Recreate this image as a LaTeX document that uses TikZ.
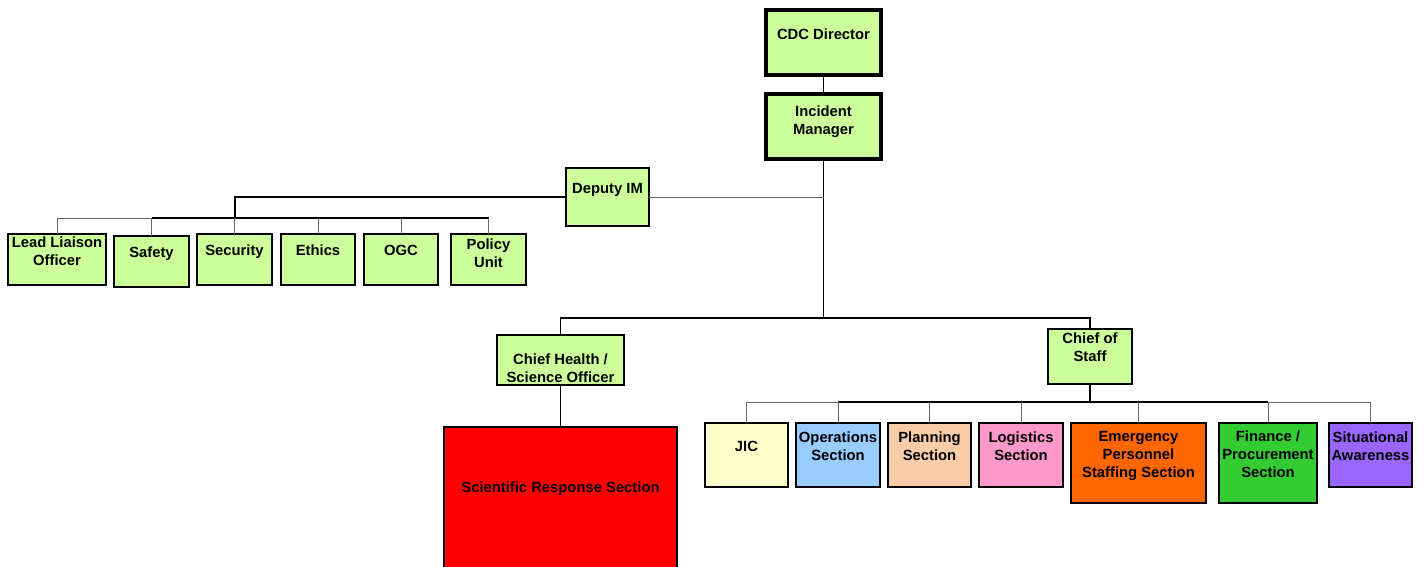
\documentclass[tikz,border=0pt]{standalone}
\usepackage{fontspec}
\setmainfont{Liberation Sans}
\definecolor{lime}{HTML}{CCFF99}
\definecolor{cream}{HTML}{FFFFCC}
\definecolor{sky}{HTML}{99CCFF}
\definecolor{peach}{HTML}{FACDA8}
\definecolor{rose}{HTML}{FF99CC}
\definecolor{tangerine}{HTML}{FF6600}
\definecolor{leafgreen}{HTML}{33CC33}
\definecolor{violet}{HTML}{9966FF}
\definecolor{scarlet}{HTML}{FF0000}
% box: name, x1, y1, x2, y2, style, label centre y, label
\newcommand\orgbox[8]{%
  \node[#6, minimum width={(#4)-(#2)}, minimum height={(#5)-(#3)}] (#1)
    at ({((#2)+(#4))/2},{((#3)+(#5))/2}) {};
  \node[lbl] (#1-t) at ({((#2)+(#4))/2},{(#7)+1.8}) {#8};}
\begin{document}
\begin{tikzpicture}[x=1pt,y=-1pt,
  box/.style={draw=black, line width=1.6pt, rectangle, inner sep=0pt, outer sep=0pt, fill=lime},
  bigbox/.style={box, line width=3.2pt},
  lbl/.style={font=\fontsize{14.8}{18}\selectfont\bfseries, align=center, inner sep=0pt},
  wire/.style={line width=0.9pt, black!60},
  bus/.style={line width=1.2pt, black},
  trunk/.style={line width=2pt, black}]
\useasboundingbox[fill=white] (0,0) rectangle (1424,566);

% command chain
\orgbox{cdc}{766}{10}{881}{75}{bigbox}{32}{CDC Director}
\orgbox{im}{766}{94}{881}{159}{bigbox}{120}{Incident\\Manager}
\orgbox{dep}{566}{168}{649}{226}{box}{188}{Deputy IM}

% command staff
\orgbox{ll}{8}{234}{106}{285}{box}{249}{Lead Liaison\\Officer}
\orgbox{saf}{114}{236}{189}{287}{box}{252}{Safety}
\orgbox{sec}{197}{234}{272}{285}{box}{250}{Security}
\orgbox{eth}{281}{234}{355}{285}{box}{248}{Ethics}
\orgbox{ogc}{364}{234}{438}{285}{box}{249}{OGC}
\orgbox{pol}{451}{234}{526}{285}{box}{251}{Policy\\Unit}

% science branch
\orgbox{chs}{497}{335}{624}{385}{box}{366}{Chief Health /\\Science Officer}
\orgbox{srs}{444}{427}{677}{572}{box, fill=scarlet}{487}{Scientific Response Section}

% chief of staff branch
\orgbox{cos}{1048}{329}{1132}{384}{box}{345}{Chief of\\Staff}
\orgbox{jic}{705}{423}{788}{487}{box, fill=cream}{445}{JIC}
\orgbox{ops}{796}{423}{880}{487}{box, fill=sky}{444}{Operations\\Section}
\orgbox{pla}{888}{423}{971}{487}{box, fill=peach}{444}{Planning\\Section}
\orgbox{log}{979}{423}{1063}{487}{box, fill=rose}{444}{Logistics\\Section}
\orgbox{eps}{1071}{423}{1206}{503}{box, fill=tangerine}{454}{Emergency\\Personnel\\Staffing Section}
\orgbox{fin}{1219}{423}{1317}{503}{box, fill=leafgreen}{452}{Finance /\\Procurement\\Section}
\orgbox{sit}{1329}{423}{1412}{487}{box, fill=violet}{444}{Situational\\Awareness}

% connectors
\coordinate (lvl) at (0,318);
\coordinate (split) at (im.south |- lvl);
\coordinate (dbus) at (235,218);
\coordinate (cbus) at (1090,402);

\draw[bus] (cdc.south) -- (im.north);
\draw[bus] (im.south) -- (split);
\draw[bus] (chs.north) |- (split) -| (cos.north);
\draw[bus] (chs.south) -- (srs.north);
\draw[wire] (dep.east) -- (dep.east -| split);

\draw[wire] (ll.north) |- (saf.north |- dbus);
\draw[bus] (saf.north |- dbus) -- (pol.north |- dbus);
\foreach \n in {saf,sec,eth,ogc,pol}
  \draw[wire] (\n.north) -- (\n.north |- dbus);
\draw[trunk] (dep.west) -| (dbus);

\draw[wire] (jic.north) |- (ops.north |- cbus);
\draw[bus] (ops.north |- cbus) -- (fin.north |- cbus);
\draw[wire] (fin.north |- cbus) -| (sit.north);
\foreach \n in {ops,pla,log,eps,fin}
  \draw[wire] (\n.north) -- (\n.north |- cbus);
\draw[trunk] (cos.south) -- (cbus);
\end{tikzpicture}
\end{document}
